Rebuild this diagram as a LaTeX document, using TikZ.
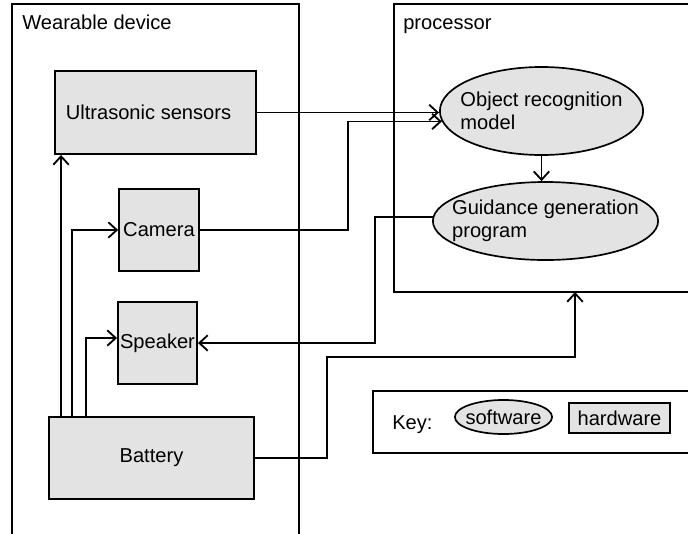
\documentclass[tikz,border=0pt]{standalone}
\usepackage{fontspec}
\setmainfont{Liberation Sans}
\usetikzlibrary{shapes.geometric, arrows.meta, calc}

\begin{document}
\begin{tikzpicture}[
        x=0.025cm, y=-0.025cm,
        font=\fontsize{14.3}{16.5}\selectfont,
        >={Straight Barb[length=6pt, width=11pt]},
        frame/.style={draw, line width=1.3pt},
        title/.style={anchor=base west, inner sep=0pt},
        hw/.style={draw, line width=1.2pt, fill=black!11, inner sep=0pt},
        sw/.style={draw, ellipse, line width=1.2pt, fill=black!11, inner sep=0pt},
        swtext/.style={align=left, inner sep=0pt},
        link/.style={->, line width=1.3pt}
    ]
        \useasboundingbox (0,0) rectangle (688,533);

        % ========================================================
        % MARCOS
        % ========================================================
        \draw[frame] (12,4) rectangle (299,545);
        \draw[frame] (394,4) rectangle (700,292);
        \draw[frame] (373,391) rectangle (700,453);

        \node[title] (wearlbl) at (22,29) {Wearable device};
        \node[title] (proclbl) at (403,29) {processor};
        \coordinate (procin) at (575,292);

        % ========================================================
        % HARDWARE
        % ========================================================
        \node[hw, minimum width=5.03cm, minimum height=2.08cm,
            label={[swtext]center:\hspace*{-0.35cm}Ultrasonic sensors}] (ultra) at (155.5,112.5) {};
        \node[hw, minimum width=2.0cm, minimum height=2.05cm] (camera) at (159,230) {Camera};
        \node[hw, minimum width=1.98cm, minimum height=2.05cm] (speaker) at (157.5,343) {Speaker};
        \node[hw, minimum width=5.13cm, minimum height=2.05cm] (battery) at (151.5,458) {Battery};

        % ========================================================
        % SOFTWARE
        % ========================================================
        \node[sw, minimum width=5.08cm, minimum height=2.2cm,
            label={[swtext]center:{Object recognition\\model}}] (objrec) at (541.5,111) {};
        \node[sw, minimum width=5.63cm, minimum height=1.95cm,
            label={[swtext]center:{Guidance generation\\program}}] (guide) at (545.5,221) {};

        % ========================================================
        % CONEXIONES
        % ========================================================
        \path (battery.north west) ++(13,0) coordinate (pw1) ++(11,0) coordinate (pw2) ++(14,0) coordinate (pw3);

        \draw[link] (pw1) -- (pw1 |- ultra.south);
        \draw[link] (pw2) |- (camera.west);
        \draw[link] (pw3) |- ($(speaker.west)+(0,-5)$);

        \draw[link] (ultra.east) -- (ultra.east -| objrec.west);
        \draw[link] (camera.east) -- ++(148,0) |- (objrec.186);
        \draw[link] (objrec.south) -- (objrec.south |- guide.north);
        \draw[link] (guide.178) -- ++(-58,0) |- (speaker.east);
        \draw[link] (battery.east) -- ++(72,0) -- ++(0,-101) -| (procin);

        % ========================================================
        % LEYENDA
        % ========================================================
        \node[title] (keylbl) at (392,429) {Key:};
        \node[sw, minimum width=2.43cm, minimum height=0.85cm,
            label={[swtext]center:software}] (keysw) at (503.5,417) {};
        \node[hw, minimum width=2.53cm, minimum height=0.75cm] (keyhw) at (619.5,418) {hardware};

    \end{tikzpicture}
\end{document}
